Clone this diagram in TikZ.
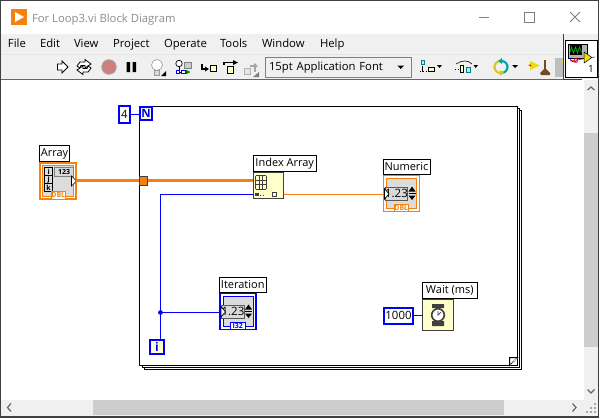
\documentclass[tikz,border=0pt]{standalone}
\usepackage{fontspec}
\setmainfont{Open Sans}
\usetikzlibrary{calc}
\definecolor{lvorange}{HTML}{F5820F}
\definecolor{lvblue}{HTML}{0000FF}
\definecolor{barbg}{HTML}{F0F0F0}
\definecolor{thumb}{HTML}{CDCDCD}
\definecolor{nodeyellow}{HTML}{FFFFCC}
\definecolor{edgegray}{HTML}{404040}
\definecolor{panelgray}{HTML}{DCDCDC}
\newcommand{\bx}[7]{% name x1 y1 x2 y2 style text
  \node[boxbase,#6,minimum width={(#4-#2)*1pt},minimum height={(#5-#3)*1pt}] (#1) at ({(#2+#4)/2},{(#3+#5)/2}) {#7};}
\newcommand{\numind}[5]{% prefix x y colour tag
 \begin{scope}[shift={(#2,#3)}]
  \bx{#1term}{0.5}{0.5}{36.5}{36.5}{draw=#4,line width=1.2pt,fill=white}{}
  \bx{#1inner}{3.5}{3.5}{33.5}{33.5}{draw=#4,line width=1pt,fill=panelgray}{}
  \bx{#1disp}{3.5}{12.5}{23.5}{25}{draw=gray!70!black,line width=1pt,fill=gray!30,font=\fontsize{11.5}{11}\selectfont}{1.23}
  \bx{#1tag}{11}{29.5}{25.5}{36.5}{draw=#4,line width=1pt,fill=white,text=#4,font=\fontsize{7}{6}\bfseries\selectfont}{#5}
  \fill[black] (25.5,16.5) -- (32.5,16.5) -- (29,11.5) -- cycle;
  \fill[black] (25.5,20.5) -- (32.5,20.5) -- (29,25) -- cycle;
  \draw[black,line width=.8pt] (25.5,18.5) -- (32.5,18.5);
  \draw[black,fill=white,line width=.7pt] (1.5,13.5) -- (6,19) -- (1.5,24) -- cycle;
 \end{scope}}
\tikzset{
 x=1pt,y=-1pt,
 boxbase/.style={rectangle,inner sep=0pt,outer sep=0pt,anchor=center},
 lbl/.style={draw=black,line width=1pt,fill=white,font=\fontsize{11}{12}\selectfont},
 const/.style={draw=lvblue,line width=2pt,fill=white,font=\fontsize{11.4}{12}\selectfont},
 func/.style={draw=edgegray,line width=1pt,fill=nodeyellow},
 thickwire/.style={draw=lvorange,line width=3pt},
 thinwire/.style={draw=lvorange,line width=1pt},
 bluewire/.style={draw=lvblue,line width=1pt},
 loopedge/.style={draw=black,line width=1pt,fill=white},
 menutext/.style={font=\fontsize{11.3}{12}\selectfont,anchor=base west,inner sep=0pt,outer sep=0pt},
}
\begin{document}
\begin{tikzpicture}
\useasboundingbox (0,0) rectangle (600,418);
% window
\fill[white] (0,0) rectangle (600,418);
\fill[barbg] (1,34) rectangle (598,79);
\draw[white!80!gray,line width=.6pt] (1,54.5) -- (563,54.5);
\draw[edgegray!80,line width=1pt] (1,79.5) -- (563,79.5);
% title
\bx{appicon}{11}{9}{27}{25}{fill=lvorange}{}
\fill[white] (15,12) -- (24,17) -- (15,22) -- cycle;
\node[menutext,text=gray!90] (title) at (32,22) {For Loop3.vi Block Diagram};
\draw[gray,line width=.8pt] (479,17.5) -- (489,17.5);
\draw[gray,line width=.8pt] (524.5,12.5) rectangle (534,22);
\draw[gray,line width=.8pt] (570,12) -- (580,22) (580,12) -- (570,22);
% menus
\foreach \nm/\xx/\tx in {mfile/8/File,medit/40/Edit,mview/74/View,mproject/113/Project,moperate/164/Operate,mtools/220/Tools,mwindow/262/Window,mhelp/320/Help}
  \node[menutext] (\nm) at (\xx,47) {\tx};
% toolbar
\draw[black,fill=white,line width=.8pt] (57.5,64) -- (62,64) -- (62,61) -- (68,67) -- (62,73) -- (62,70) -- (57.5,70) -- cycle;
\draw[black,fill=white,line width=.8pt] (77,66) -- (80,62) -- (85,62) -- (85,59.5) -- (91,64) -- (85,68) -- (85,65.5) -- (81,65.5) -- (80,68) -- cycle;
\draw[black,fill=white,line width=.8pt] (91,68) -- (88,72) -- (83,72) -- (83,74.5) -- (77,70) -- (83,66) -- (83,68.5) -- (87,68.5) -- (88,66) -- cycle;
\draw[gray!70,fill=red!45!gray!70!white,line width=1pt] (109,67) circle (7.2);
\fill[black] (126.5,62) rectangle (130,72) (132.5,62) rectangle (136,72);
\draw[gray!80,fill=white,line width=.6pt] (157,65) circle (5.5);
\draw[gray!80,fill=gray!30,line width=.6pt] (154.5,70.5) rectangle (159.5,75);
\fill[black] (161,76) -- (166,76) -- (166,71) -- cycle;
\draw[black,fill=white,line width=.7pt] (179,63.5) circle (3.2);
\draw[gray,fill=gray!40,line width=.7pt] (184,62.5) rectangle (191,68);
\draw[black,line width=.7pt] (179,67) -- (179,72) -- (184,72);
\draw[blue,fill=white,line width=.7pt] (176,70.5) rectangle (179,73.5);
\draw[blue,fill=white,line width=.7pt] (181,70.5) rectangle (185,73.5);
\draw[green!50!black,fill=green!50!black] (186,70) -- (190,72) -- (186,74) -- cycle;
\draw[black,line width=1.4pt] (202,64) -- (202,69) -- (206,69);
\fill[black] (205,66.5) -- (209,69) -- (205,71.5) -- cycle;
\draw[black,fill=nodeyellow,line width=1pt] (210,65) rectangle (216,71);
\draw[black,line width=1.4pt] (224,65) -- (224,62.5) -- (234,62.5);
\fill[black] (233,60) -- (238,62.5) -- (233,65) -- cycle;
\draw[black,fill=nodeyellow,line width=1pt] (227,66.5) rectangle (233,73);
\draw[gray!60,fill=nodeyellow!70!gray!60,line width=.8pt] (244,68) rectangle (250,74);
\draw[gray!70,line width=1.3pt] (250,66) -- (255,66) -- (255,72);
\fill[gray!70] (252,67) -- (255,63) -- (258,67) -- cycle;
\fill[gray] (253,77) -- (259,77) -- (259,72) -- cycle;
\bx{fontbox}{265.5}{57.5}{411.5}{77}{draw=gray,line width=.8pt,fill=barbg,font=\fontsize{11.3}{12}\selectfont,text width=139pt,align=left}{15pt Application Font}
\fill[black] (397.5,65.5) -- (404,65.5) -- (400.7,69) -- cycle;
% align / distribute / reorder / cleanup
\draw[teal,fill=cyan!30,line width=.7pt] (421,60.5) rectangle (424.5,64.5);
\draw[black,fill=nodeyellow,line width=.7pt] (428,67.5) rectangle (434,71.5);
\draw[black,line width=.8pt,dotted] (420,71.5) -- (435,71.5);
\draw[black,line width=.8pt] (422.5,66) -- (422.5,72);
\fill[black] (437,65) -- (442,65) -- (439.5,68) -- cycle;
\draw[black,line width=.6pt] (456,64) .. controls (462,60) and (468,60) .. (472,64);
\draw[black,fill=nodeyellow,line width=.7pt] (460,65.5) rectangle (463.5,72);
\draw[teal,fill=cyan!30,line width=.7pt] (466,67.5) rectangle (470.5,72);
\draw[black,line width=.8pt,dotted] (455,69) -- (459,69);
\fill[black] (473.5,65) -- (478,65) -- (475.7,68) -- cycle;
\draw[yellow!80!black,line width=2.2pt] (500.5,61) arc (270:90:6);
\draw[teal!70!cyan,line width=2.2pt] (501.5,61) arc (-90:90:6);
\fill[yellow!80!black] (500,70) -- (504,73) -- (500,76) -- cycle;
\fill[teal!70!cyan] (502,58) -- (498,61) -- (502,64) -- cycle;
\fill[black] (512,65) -- (518,65) -- (515,68) -- cycle;
\fill[yellow!90!black] (530,61) -- (530,70) -- (540,65.5) -- cycle;
\fill[red] (528,65) -- (531,64.5) -- (531,66.5) -- cycle;
\draw[brown!60!black,line width=1.5pt] (545,60) -- (545,70);
\fill[brown!60!black] (540,73) -- (545,68) -- (550,73) -- (550,75) -- (541,75) -- cycle;
\fill[gray!50] (555,58) rectangle (563,77);
\fill[yellow!90!black] (561,62) -- (563,60) -- (563,64) -- cycle;
% right panel
\fill[barbg] (563,34) rectangle (598,79);
\draw[edgegray,line width=.9pt] (563.5,34) -- (563.5,79.5);
\draw[edgegray,line width=.9pt] (563.5,79.5) -- (582,79.5);
\bx{vicon}{565}{40}{597}{77.5}{draw=black,line width=.8pt,fill=white}{}
\draw[black,fill=gray!60,line width=.5pt] (568.5,44) rectangle (587,58);
\fill[black] (569.5,45) rectangle (582,55);
\draw[green!70!black,line width=.7pt] (570,52) -- (571.5,47) -- (573.5,53) -- (575.5,47) -- (577.5,53) -- (579.5,47) -- (581.5,52);
\draw[blue,line width=.7pt] (570,58) arc (180:0:4);
\draw[red,line width=.6pt] (570,61) -- (595,57);
\draw[red,line width=.6pt] (576,60.5) circle (2);
\draw[black,fill=yellow!90!black,line width=.5pt] (584,52) -- (584,63) -- (592,57.5) -- cycle;
\node[inner sep=0pt,font=\fontsize{10}{10}\selectfont] (vnum) at (591,69) {1};
% canvas
\fill[white] (1,80) rectangle (584,400);
% v scrollbar
\fill[barbg] (584,80) rectangle (598,400);
\fill[thumb] (584,133) rectangle (598,347);
\draw[gray!80!black,line width=1.2pt] (587.5,90) -- (591,87) -- (594.5,90);
\draw[gray!80!black,line width=1.2pt] (587.5,389.5) -- (591,393) -- (594.5,389.5);
% h scrollbar
\fill[barbg] (1,400) rectangle (598,416);
\fill[thumb] (93,400) rectangle (504,415);
\draw[gray!80!black,line width=1.2pt] (11,403.5) -- (7.5,407.5) -- (11,411.5);
\draw[gray!80!black,line width=1.2pt] (572.5,403.5) -- (576,407.5) -- (572.5,411.5);
\foreach \a/\b in {594/411,590/411,594/407,586/411,590/407,594/403}
  \fill[gray!70] (\a,\b) rectangle ++(2,2);
% window frame
\draw[edgegray,line width=1.4pt] (.7,.7) rectangle (598.3,416.8);
% for loop frames
\draw[loopedge] (144.5,110.5) rectangle (521.5,369.5);
\draw[loopedge] (142.5,108.5) rectangle (519.5,367.5);
\bx{loop}{139.5}{106.5}{517.5}{365.5}{loopedge}{}
\draw[black,fill=white,line width=1pt] (509.5,365.5) -- (509.5,357.5) -- (517.5,357.5) -- cycle;
\draw[white,line width=1pt] (510.5,365) -- (517,358);
\draw[black,line width=.7pt,densely dotted] (510,365) -- (517.5,357.5);
% constants and terminals
\bx{ncount}{119}{106}{130}{123}{const}{4}
\bx{nterm}{140.3}{107}{152}{120}{const,font=\fontsize{11.5}{12}\bfseries\selectfont,text=lvblue,fill=nodeyellow}{N}
\draw[bluewire] (ncount.east) -- (ncount.east -| nterm.west);
\bx{iterm}{150}{340}{164}{354}{const,font=\fontsize{12}{12}\bfseries\selectfont,text=lvblue,fill=nodeyellow}{i}
% array
\bx{arrayl}{39.5}{145.5}{69.5}{161.5}{lbl}{Array}
\bx{arrayt}{40}{163}{76}{198.8}{draw=lvorange,line width=2pt,fill=white}{}
\bx{arrayi}{42.7}{165.7}{73.5}{196}{draw=lvorange,line width=.8pt,fill=panelgray}{}
\fill[black] (44,167) rectangle (53.3,191.7);
\bx{ai}{45.3}{168.3}{52}{175.3}{fill=panelgray,font=\fontsize{7}{7}\bfseries\selectfont}{i}
\bx{aj}{45.3}{176.3}{52}{183.2}{fill=panelgray,font=\fontsize{7}{7}\bfseries\selectfont}{j}
\bx{ak}{45.3}{184.2}{52}{190.5}{fill=panelgray,font=\fontsize{7}{7}\bfseries\selectfont}{k}
\bx{anum}{54.8}{167.5}{73.5}{176.5}{draw=gray,line width=.9pt,fill=gray!30,font=\fontsize{7}{7}\bfseries\selectfont}{123}
\bx{atag}{51}{191.5}{65.5}{199}{draw=lvorange,line width=.9pt,fill=white,text=lvorange,font=\fontsize{7}{6}\bfseries\selectfont}{DBL}
\draw[black,fill=white,line width=.7pt] (71.5,176) -- (76.5,181) -- (71.5,186) -- cycle;
% index array
\bx{indexl}{253}{155.5}{316.5}{171.5}{lbl}{Index Array}
\bx{indexn}{253}{172.5}{283.5}{198.5}{func}{}
\foreach \gx in {255.5,259,262.5,266} \draw[edgegray,line width=.6pt] (\gx,175.5) -- (\gx,189);
\foreach \gy in {175.5,180,184.5,189} \draw[edgegray,line width=.6pt] (255.5,\gy) -- (266,\gy);
\fill[edgegray] (255,193) rectangle (258.5,196);
\draw[edgegray,line width=.7pt,dotted] (260,195.5) -- (263,195.5);
\draw[edgegray,line width=.8pt] (272.5,192.5) rectangle (276.5,196);
% numeric, iteration
\bx{numl}{383}{159.5}{430}{174.5}{lbl}{Numeric}
\numind{num}{383}{175}{lvorange}{DBL}
\bx{iterl}{219.5}{277}{266}{292.5}{lbl}{Iteration}
\numind{iter}{219.5}{293}{lvblue}{I32}
% wait
\bx{waitl}{422.5}{282.5}{477}{298.5}{lbl}{Wait (ms)}
\bx{waitn}{422.5}{299.5}{453.5}{330}{func}{}
\fill[edgegray] (432,304) rectangle (444,308) (432,321) rectangle (444,326);
\draw[edgegray,fill=white,line width=1.6pt] (438,315) circle (6.3);
\draw[edgegray,line width=.7pt] (438,311) -- (438,315) -- (441,312);
\bx{waitc}{384}{307.5}{413}{323.5}{const}{1000}
% wires
\coordinate (idxthick) at (253,180.5);
\coordinate (idxblue) at (253,194.5);
\coordinate (idxout) at (283.5,194.5);
\coordinate (numin) at (383.5,194.5);
\coordinate (bend) at (160.5,194.5);
\coordinate (ibottom) at (160.5,339);
\node[fill=lvorange,draw=edgegray,line width=.8pt,minimum size=8.3pt,inner sep=0pt,outer sep=0pt] (tunnel) at (143.5,181) {};
\draw[thickwire] (arrayt.east |- idxthick) -- (tunnel.west |- idxthick);
\draw[thickwire] (tunnel.east |- idxthick) -- (idxthick);
\draw[thinwire] (idxout) -- (numin);
\draw[bluewire] (ibottom) -- (bend) -- (idxblue);
\fill[lvblue] (160.5,312.5) circle (2.4) coordinate (junction);
\draw[bluewire] (junction) -- (junction -| iterterm.west);
\draw[bluewire] (waitc.east) -- (waitc.east -| waitn.west);
\end{tikzpicture}
\end{document}
